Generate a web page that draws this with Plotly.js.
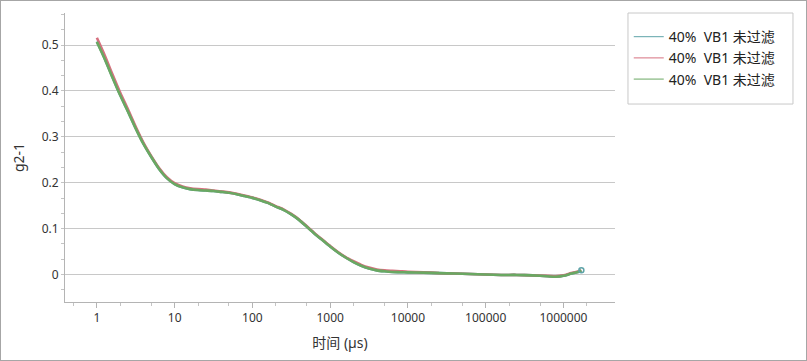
<!DOCTYPE html>
<html>
<head>
<meta charset="utf-8">
<script src="https://cdn.plot.ly/plotly-3.0.1.min.js"></script>
<style>
html,body{margin:0;padding:0;background:#fff;}
#wrap{position:relative;width:807px;height:361px;}
#chart{width:807px;height:361px;}
#frame{position:absolute;left:0;top:0;width:805px;height:359px;border:1px solid #a6a6a6;pointer-events:none;}
</style>
</head>
<body>
<div id="wrap"><div id="chart"></div><div id="frame"></div></div>
<script>
// time (µs)
const timeUs = [1.0,1.26,1.58,2.0,2.51,3.16,3.98,5.01,6.31,7.94,10,12.6,15.8,20,25.1,31.6,39.8,50.1,63.1,79.4,100,126,158,200,251,316,398,501,631,794,1000,1260,1580,2000,2510,3160,3980,5010,6310,7940,10000,15800,25100,39800,63100,100000,158000,251000,398000,631000,794000,1000000,1260000,1580000,1700000];
const seriesNames = ["40%\u00a0\u00a0VB1 未过滤","40%\u00a0\u00a0VB1 未过滤","40%\u00a0\u00a0VB1 未过滤"];
const tealVals = [0.508,0.471,0.431,0.391,0.356,0.319,0.285,0.256,0.230,0.210,0.197,0.190,0.186,0.184,0.183,0.182,0.180,0.178,0.175,0.171,0.167,0.162,0.156,0.148,0.141,0.131,0.119,0.104,0.089,0.075,0.061,0.048,0.037,0.027,0.019,0.013,0.009,0.007,0.0055,0.005,0.0045,0.004,0.003,0.002,0.001,0.000,-0.001,-0.001,-0.002,-0.004,-0.005,-0.003,0.002,0.006,0.009];
const redVals = [0.516,0.478,0.437,0.396,0.360,0.322,0.287,0.258,0.232,0.212,0.199,0.192,0.188,0.186,0.185,0.183,0.181,0.179,0.176,0.172,0.168,0.163,0.157,0.149,0.142,0.132,0.120,0.105,0.090,0.076,0.062,0.049,0.038,0.029,0.021,0.015,0.011,0.009,0.008,0.007,0.006,0.005,0.003,0.002,0.001,0.000,-0.001,-0.001,-0.002,-0.003,-0.004,-0.002,0.003,0.007,0.008];
const greenVals = [0.507,0.470,0.430,0.390,0.355,0.318,0.284,0.256,0.230,0.210,0.197,0.190,0.186,0.184,0.183,0.182,0.180,0.178,0.175,0.171,0.167,0.162,0.156,0.148,0.141,0.131,0.119,0.104,0.089,0.075,0.061,0.048,0.037,0.027,0.019,0.013,0.009,0.007,0.0055,0.005,0.0045,0.004,0.003,0.002,0.001,0.000,-0.001,-0.001,-0.002,-0.004,-0.005,-0.003,0.002,0.006,0.008];
const xTickVals = [1,10,100,1000,10000,100000,1000000];
const xTickText = ["1","10","100","1000","10000","100000","1000000"];
const yTickVals = [0,0.1,0.2,0.3,0.4,0.5];
const yTickText = ["0","0.1","0.2","0.3","0.4","0.5"];

const colors = ["#5ea3a8","#d6707f","#6aa862"];
const font = "Noto Sans, Noto Sans CJK SC, DejaVu Sans, sans-serif";
const vals = [tealVals, redVals, greenVals];
const traces = vals.map((v,i)=>({
  type:"scatter", mode:"lines", x: timeUs, y: v, name: seriesNames[i],
  line:{color: colors[i], width: 2.6, shape:"spline", smoothing:0.6}, showlegend:false
}));
// legend entries (thin line keys, no data)
vals.forEach((v,i)=>traces.push({type:"scatter", mode:"lines", x:[null], y:[null], name: seriesNames[i],
  line:{color: colors[i], width: 1}}));
traces.push({type:"scatter", mode:"markers", x:[timeUs[timeUs.length-1]], y:[tealVals[tealVals.length-1]],
  marker:{symbol:"circle-open", size:5, color:colors[0], line:{width:1.5}}, showlegend:false, hoverinfo:"skip"});
const layout = {
  width:807, height:361,
  margin:{l:65, r:192, t:13, b:59},
  paper_bgcolor:"#fff", plot_bgcolor:"#fff",
  font:{family:font, size:12, color:"#333"},
  showlegend:true,
  legend:{x:1.025, y:0.972, xanchor:"left", yanchor:"top", bgcolor:"rgba(0,0,0,0)",
    font:{family:font, size:14, color:"#222"}, tracegroupgap:0, itemwidth:30},
  xaxis:{type:"log", range:[-0.41, 6.663], tickvals:xTickVals, ticktext:xTickText,
    showgrid:false, zeroline:false, showline:true, linecolor:"#b4b4b4", linewidth:1,
    ticks:"outside", ticklen:5, tickcolor:"#b4b4b4",
    minor:{ticks:"outside", ticklen:3, tickcolor:"#c4c4c4", showgrid:false},
    tickfont:{family:font, size:12, color:"#333"},
    title:{text:"时间 (µs)", font:{family:font, size:14, color:"#333"}, standoff:12},
    automargin:false},
  yaxis:{range:[-0.06, 0.57], tickvals:yTickVals, ticktext:yTickText,
    showgrid:true, gridcolor:"#c8c8c8", gridwidth:1, zeroline:false,
    showline:true, linecolor:"#b4b4b4", linewidth:1,
    ticks:"outside", ticklen:3, tickcolor:"#c4c4c4",
    minor:{dtick:0.1/3, tick0:0, ticks:"outside", ticklen:3, tickcolor:"#c4c4c4", showgrid:false},
    tickfont:{family:font, size:12, color:"#333"},
    title:{text:"g2-1", font:{family:font, size:14, color:"#333"}, standoff:13},
    automargin:false},
  shapes:[{type:"rect", xref:"paper", yref:"paper", x0:1.0236, x1:1.3236, y0:0.685, y1:1.0,
    line:{color:"#c8c8c8", width:1}, fillcolor:"rgba(0,0,0,0)"}]
};
Plotly.newPlot("chart", traces, layout, {displayModeBar:false, staticPlot:true});
</script>
</body>
</html>
